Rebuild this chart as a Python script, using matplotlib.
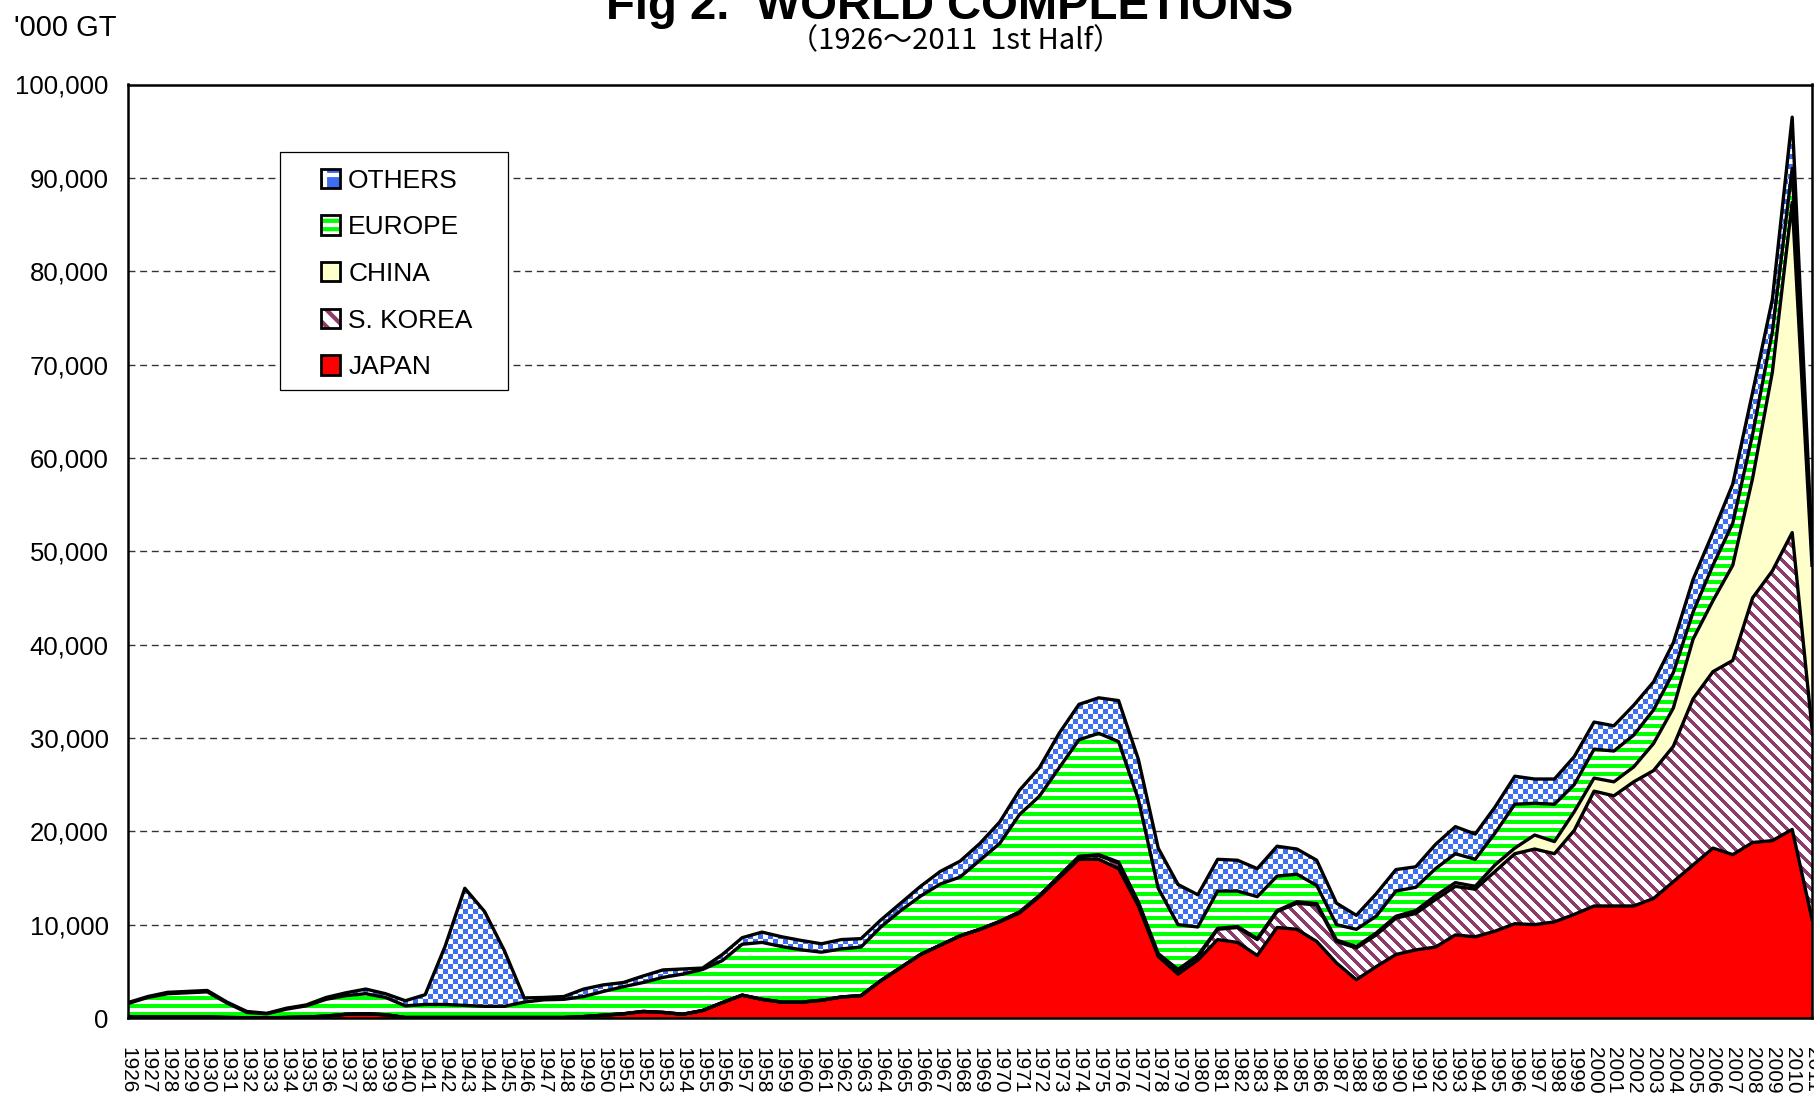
import numpy as np
import matplotlib
matplotlib.use("Agg")
import matplotlib.pyplot as plt
from matplotlib.patches import Patch, Rectangle
from matplotlib.ticker import FuncFormatter

# ---- data ('000 GT), 1926 .. 2011 (1st half) ----
years = list(range(1926, 2012))

japan = [100, 100, 100, 100, 100, 50, 30, 20, 50, 100,
         200, 400, 450, 350, 50, 50, 50, 50, 50, 50,
         50, 50, 50, 150, 300, 450, 700, 600, 400, 800,
         1650, 2450, 2000, 1700, 1700, 1900, 2250, 2400, 4000, 5400,
         6800, 7800, 8800, 9500, 10300, 11250, 13000, 15000, 17000, 17000,
         16000, 12000, 6600, 4700, 6200, 8400, 8100, 6700, 9700, 9500,
         8200, 5900, 4100, 5500, 6800, 7300, 7600, 8900, 8700, 9300,
         10100, 10000, 10300, 11100, 12000, 12000, 12000, 12800, 14600, 16400,
         18200, 17500, 18800, 19000, 20200, 10600]

korea = [0] * 44 + [50, 100, 100, 200, 300, 400,
                    600, 300, 200, 400, 400, 1100, 1600, 1700, 1700, 2800,
                    3900, 2300, 3400, 3400, 3900, 3900, 5100, 5200, 5100, 6400,
                    7500, 8100, 7300, 9000, 12300, 11800, 13300, 13700, 14500, 17800,
                    18900, 20800, 26200, 28900, 31800, 20400]

china = [0] * 49 + [100,
                    100, 100, 100, 100, 100, 100, 100, 100, 100, 150,
                    150, 150, 150, 200, 200, 300, 400, 400, 300, 700,
                    600, 1500, 1300, 2000, 1400, 1500, 1600, 2900, 4100, 6400,
                    7600, 10200, 12800, 21300, 35400, 17500]

europe = [1450, 2100, 2500, 2600, 2700, 1550, 570, 430, 900, 1200,
          1800, 2000, 2150, 1850, 1250, 1400, 1400, 1300, 1200, 1200,
          1650, 1900, 1950, 2150, 2550, 2900, 3100, 3750, 4300, 4400,
          4500, 5450, 6100, 5950, 5600, 5150, 5150, 5200, 5750, 6100,
          6250, 6550, 6300, 7400, 8350, 10450, 10650, 11600, 12500, 13000,
          12900, 11000, 7000, 4800, 3050, 4000, 3800, 4500, 3700, 2950,
          1950, 1650, 1850, 1800, 2700, 2500, 2900, 3100, 2900, 3400,
          4700, 3400, 4000, 2900, 3100, 3300, 3400, 3600, 3800, 2900,
          3800, 4500, 4700, 4300, 3600, 1300]

others = [100, 100, 150, 150, 150, 100, 100, 50, 100, 100,
          200, 300, 500, 400, 550, 1050, 6200, 12550, 10150, 5950,
          450, 250, 300, 800, 700, 450, 700, 800, 550, 150,
          650, 700, 1100, 1050, 1000, 900, 1000, 900, 750, 800,
          1050, 1350, 1700, 1800, 2300, 2600, 3050, 3700, 3800, 3800,
          4400, 4300, 4300, 4300, 3450, 3400, 3300, 3000, 3200, 2700,
          2700, 2300, 1500, 2400, 2300, 2200, 2600, 2900, 2700, 2800,
          3000, 2600, 2700, 3000, 2900, 2700, 3200, 3000, 3200, 3500,
          3500, 4200, 4500, 3500, 5500, 700]

labels = ["JAPAN", "S. KOREA", "CHINA", "EUROPE", "OTHERS"]

plt.rcParams['font.family'] = ['Liberation Sans', 'DejaVu Sans']
plt.rcParams['hatch.linewidth'] = 3.0

FW, FH = 1814, 1095
fig = plt.figure(figsize=(FW / 100, FH / 100), dpi=100)
ax_l, ax_b = 128 / FW, 1 - 1018 / FH
ax_w, ax_h = (1812 - 128) / FW, (1018 - 84.5) / FH
ax = fig.add_axes([ax_l, ax_b, ax_w, ax_h])

x = np.arange(len(years))
stack = np.cumsum(np.array([japan, korea, china, europe, others], dtype=float), axis=0)
lower = np.vstack([np.zeros(len(years)), stack[:-1]])

# pixel textures for the patterned layers (axes-sized, in screen pixels)
W, H = int(round(ax_w * FW)), int(round(ax_h * FH))
yy, xx = np.mgrid[0:H, 0:W]


def texture(mask, rgb):
    img = np.full((H, W, 3), 255, dtype=np.uint8)
    img[mask] = rgb
    return img


tex_korea = texture(((xx - yy) % 12) < 5, (142, 59, 107))
tex_europe = texture((yy % 8) < 4, (0, 255, 0))
tex_others = texture(((xx // 5 + yy // 5) % 2) == 0, (61, 109, 240))

fills = {0: '#ff0000', 2: '#ffffcc'}
textures = {1: tex_korea, 3: tex_europe, 4: tex_others}

for i in range(5):
    poly = ax.fill_between(x, lower[i], stack[i], facecolor=fills.get(i, 'white'),
                           linewidth=0, zorder=2)
    if i in textures:
        im = ax.imshow(textures[i], extent=(0, len(years) - 1, 0, 100000),
                       aspect='auto', interpolation='nearest', origin='upper', zorder=2.5)
        im.set_clip_path(poly.get_paths()[0], transform=ax.transData)

for i in range(5):
    ax.plot(x, stack[i], color='black', lw=2.4, zorder=4)

ax.set_xlim(0, len(years) - 1)
ax.set_ylim(0, 100000)
ax.set_yticks(np.arange(0, 100001, 10000))
ax.yaxis.set_major_formatter(FuncFormatter(lambda v, p: f"{v:,.0f}"))
ax.set_xticks(x)
ax.set_xticklabels([str(y) for y in years])
ax.tick_params(axis='y', length=0, pad=14, labelsize=18.5)
ax.tick_params(axis='x', direction='in', length=3.6, width=1, pad=21,
               labelsize=15, labelrotation=270)
ax.grid(axis='y', color='#333333', linestyle=(0, (5, 3.4)), linewidth=1.0, zorder=1)
ax.set_axisbelow(True)
for s in ax.spines.values():
    s.set_linewidth(1.8)
    s.set_color('black')
    s.set_zorder(5)

# titles
fig.text(950 / FW, 1 - 19 / FH, "Fig 2.  WORLD COMPLETIONS", ha='center', va='baseline',
         fontsize=34, fontweight='bold')
fig.text(956 / FW, 1 - 41 / FH, "（1926～2011  1st Half）", ha='center', va='center',
         fontsize=21, family=['Noto Sans CJK JP', 'DejaVu Sans'])
fig.text(14 / FW, 1 - 28 / FH, "'000 GT", ha='left', va='center', fontsize=21)

# legend box + entries
fig.add_artist(Rectangle((280 / FW, 1 - 390 / FH), 228 / FW, 238 / FH,
                         transform=fig.transFigure, facecolor='white',
                         edgecolor='black', linewidth=0.9, zorder=3))
frame = dict(facecolor='none', edgecolor='black', linewidth=2)
handles = [
    (Patch(facecolor='#3d6df0', edgecolor='white', hatch='+', linewidth=0), Patch(**frame)),
    (Patch(facecolor='white', edgecolor='#00ff00', hatch='--', linewidth=0), Patch(**frame)),
    (Patch(facecolor='#ffffcc', linewidth=0), Patch(**frame)),
    (Patch(facecolor='white', edgecolor='#8e3b6b', hatch='\\\\', linewidth=0), Patch(**frame)),
    (Patch(facecolor='#ff0000', linewidth=0), Patch(**frame)),
]
fig.legend(handles, labels[::-1], loc='upper left',
           bbox_to_anchor=(320.7 / FW, 1 - 168.5 / FH), frameon=False, borderpad=0,
           borderaxespad=0, handlelength=0.74, handleheight=0.74, handletextpad=0.3,
           labelspacing=0.86, fontsize=19)

fig.savefig("out.png", dpi=100)
